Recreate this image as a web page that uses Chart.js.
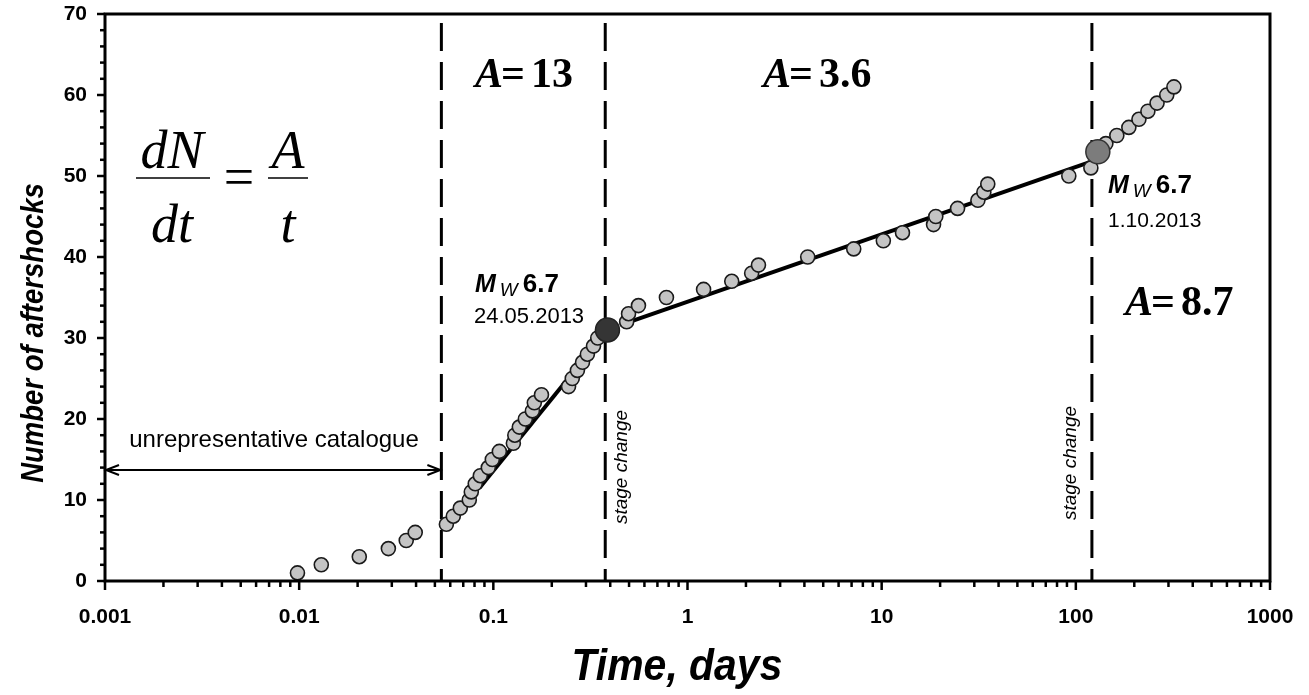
<!DOCTYPE html>
<html>
<head>
<meta charset="utf-8">
<script src="https://cdn.jsdelivr.net/npm/chart.js@4/dist/chart.umd.min.js"></script>
<style>
html,body{margin:0;padding:0;background:#fff;}
#wrap{width:1309px;height:695px;position:relative;}
</style>
</head>
<body>
<div id="wrap"><canvas id="c" width="1309" height="695"></canvas></div>
<script>
// ---- data ----
const timeDays = [0.0098,0.013,0.0204,0.0288,0.0356,0.0396,
  0.0573,0.0622,0.0676,0.0752,0.077,0.0807,0.0857,0.0942,0.0988,0.1074,0.1268,0.129,0.1361,0.1462,0.1589,0.1626,0.177,
  0.244,0.255,0.271,0.288,0.305,0.328,0.345,
  0.486,0.497,0.559,0.779,1.21,1.69,2.14,2.32,4.16,7.18,10.2,12.8,18.5,19.0,24.6,31.3,33.6,35.2,92.0,119.5,
  142.8,162.6,187.5,211.3,235,262,294,320];
const aftershocks = [1,2,3,4,5,6,
  7,8,9,10,11,12,13,14,15,16,17,18,19,20,21,22,23,
  24,25,26,27,28,29,30,
  32,33,34,35,36,37,38,39,40,41,42,43,44,45,46,47,48,49,50,51,
  54,55,56,57,58,59,60,61];
const mainshockT = [0.387, 129.8];
const mainshockN = [31, 53];
const fit1T = [0.085, 0.387];
const fit1N = [11.5, 31];
const fit2T = [0.45, 121];
const fit2N = [31.6, 51.8];
const boundaryT = [0.054, 0.377, 121];
const arrowT = [0.001, 0.054];
const arrowN = 13.7;
const xTickValues = [0.001,0.01,0.1,1,10,100,1000];
const xTickLabels = ['0.001','0.01','0.1','1','10','100','1000'];
const yTickValues = [0,10,20,30,40,50,60,70];

const pts = (xs, ys) => xs.map((x,i)=>({x:x, y:ys[i]}));

const datasets = [];
boundaryT.forEach(t => datasets.push({
  type:'line', data:[{x:t,y:68.9},{x:t,y:0}], borderColor:'#000', borderWidth:3,
  borderDash:[28,11], pointRadius:0, order:4, clip:false
}));
datasets.push({type:'line', data:[{x:arrowT[0],y:arrowN},{x:arrowT[1],y:arrowN}], borderColor:'#000',
  borderWidth:2, pointRadius:0, order:4});
datasets.push({type:'line', data:pts(fit1T,fit1N), borderColor:'#000', borderWidth:4, pointRadius:0, order:2});
datasets.push({type:'line', data:pts(fit2T,fit2N), borderColor:'#000', borderWidth:4, pointRadius:0, order:2});
datasets.push({type:'scatter', data:pts(timeDays,aftershocks), backgroundColor:'#c4c4c4', borderColor:'#1a1a1a',
  borderWidth:1.6, pointRadius:7, order:1});
datasets.push({type:'scatter', data:[{x:mainshockT[0],y:mainshockN[0]}], backgroundColor:'#353535', borderColor:'#222',
  borderWidth:1.5, pointRadius:12, order:0});
datasets.push({type:'scatter', data:[{x:mainshockT[1],y:mainshockN[1]}], backgroundColor:'#7c7c7c', borderColor:'#333',
  borderWidth:1.5, pointRadius:12, order:0});

function condensed(ctx, text, x, y, font, sx, rot, align){
  ctx.save();
  ctx.translate(x,y);
  if(rot) ctx.rotate(rot);
  ctx.scale(sx,1);
  ctx.font = font;
  ctx.textAlign = align||'center';
  ctx.textBaseline = 'middle';
  ctx.fillText(text,0,0);
  ctx.restore();
}
function rich(ctx, parts, x, y){
  let cx = x;
  parts.forEach(p=>{
    ctx.font = p.f;
    ctx.fillText(p.t, cx, y + (p.dy||0));
    cx += ctx.measureText(p.t).width + (p.gap||0);
  });
}

const deco = {
  id:'deco',
  afterDatasetsDraw(chart){
    const ctx = chart.ctx, xs = chart.scales.x, ys = chart.scales.y, a = chart.chartArea;
    ctx.save();
    ctx.fillStyle = '#000'; ctx.strokeStyle = '#000';
    // frame
    ctx.lineWidth = 3;
    ctx.strokeRect(a.left, a.top, a.right-a.left, a.bottom-a.top);
    // y ticks
    ctx.lineWidth = 2.5;
    for(let v=0; v<=70; v+=2){
      const py = ys.getPixelForValue(v);
      const len = (v%10===0)?8:5;
      ctx.beginPath(); ctx.moveTo(a.left-len, py); ctx.lineTo(a.left, py); ctx.stroke();
    }
    // x ticks
    for(let d=-3; d<=3; d++){
      for(let m=1; m<=9; m++){
        if(d===3 && m>1) break;
        const v = m*Math.pow(10,d);
        const px = xs.getPixelForValue(v);
        const len = (m===1)?9:6;
        ctx.beginPath(); ctx.moveTo(px, a.bottom); ctx.lineTo(px, a.bottom+len); ctx.stroke();
      }
    }
    // arrow heads
    const ay = ys.getPixelForValue(arrowN);
    const ax0 = xs.getPixelForValue(arrowT[0]), ax1 = xs.getPixelForValue(arrowT[1]);
    ctx.lineWidth = 2;
    ctx.beginPath(); ctx.moveTo(ax0+14, ay-5); ctx.lineTo(ax0+1, ay); ctx.lineTo(ax0+14, ay+5); ctx.stroke();
    ctx.beginPath(); ctx.moveTo(ax1-14, ay-5); ctx.lineTo(ax1-1, ay); ctx.lineTo(ax1-14, ay+5); ctx.stroke();

    ctx.textBaseline = 'alphabetic';
    ctx.textAlign = 'left';
    // A = labels
    const serifB = '"Liberation Serif", "Times New Roman", serif';
    const A = (x,y,num)=>rich(ctx,[{t:'A',f:'italic bold 42px '+serifB,gap:-2},{t:'=',f:'bold 42px '+serifB,gap:6},{t:num,f:'bold 42px '+serifB}],x,y);
    A(475,87,'13');
    A(763,87,'3.6');
    A(1125,315,'8.7');
    // formula
    ctx.font = 'italic 54px '+serifB;
    ctx.textAlign='center';
    ctx.fillText('dN',172,168);
    ctx.fillText('dt',172,242);
    ctx.fillText('A',288,168);
    ctx.fillText('t',288,242);
    ctx.font = '54px '+serifB;
    ctx.fillText('=',239,195);
    ctx.lineWidth = 1.5;
    ctx.beginPath(); ctx.moveTo(136,178); ctx.lineTo(210,178); ctx.stroke();
    ctx.beginPath(); ctx.moveTo(268,178); ctx.lineTo(308,178); ctx.stroke();
    // Mw annotations
    ctx.textAlign='left';
    const sans = '"Liberation Sans", Arial, sans-serif';
    const Mw = (x,y)=>rich(ctx,[{t:'M',f:'italic bold 25px '+sans,gap:4},{t:'W',f:'italic 19px '+sans,dy:4,gap:5},{t:'6.7',f:'bold 26px '+sans}],x,y);
    Mw(475,292);
    ctx.font = '22px '+sans; ctx.fillText('24.05.2013',474,323);
    Mw(1108,193);
    ctx.font = '21px '+sans; ctx.fillText('1.10.2013',1108,227);
    // stage change
    condensed(ctx,'stage change',622,467,'italic 19px '+sans,1,-Math.PI/2);
    condensed(ctx,'stage change',1071,463,'italic 19px '+sans,1,-Math.PI/2);
    // catalogue
    condensed(ctx,'unrepresentative catalogue',274,440,'24px '+sans,1,0);
    // axis titles
    condensed(ctx,'Number of aftershocks',34,333,'italic bold 32px '+sans,0.86,-Math.PI/2);
    condensed(ctx,'Time, days',677,668,'italic bold 44px '+sans,0.93,0);
    ctx.restore();
  }
};

function noPad(s){ s.paddingTop = 0; s.paddingBottom = 0; s.paddingLeft = 0; s.paddingRight = 0; }

new Chart(document.getElementById('c'), {
  type:'scatter',
  data:{datasets:datasets},
  options:{
    responsive:false, animation:false,
    layout:{autoPadding:false, padding:{top:14,right:39,left:0,bottom:0}},
    plugins:{legend:{display:false}, tooltip:{enabled:false}},
    scales:{
      x:{type:'logarithmic', min:0.001, max:1000, position:'bottom',
        grid:{display:false, drawTicks:false}, border:{display:false},
        afterBuildTicks:(s)=>{ s.ticks = xTickValues.map(v=>({value:v})); },
        afterFit:(s)=>{ s.height = 114; noPad(s); },
        ticks:{autoSkip:false, maxRotation:0, padding:24, color:'#000',
          font:{family:'"Liberation Sans", Arial, sans-serif', size:21, weight:'bold'},
          callback:(v)=>{ const i = xTickValues.findIndex(t=>Math.abs(Math.log10(t)-Math.log10(v))<1e-6); return i>=0?xTickLabels[i]:''; }}
      },
      y:{min:0, max:70,
        grid:{display:false, drawTicks:false}, border:{display:false},
        afterBuildTicks:(s)=>{ s.ticks = yTickValues.map(v=>({value:v})); },
        afterFit:(s)=>{ s.width = 105; noPad(s); },
        ticks:{padding:18, color:'#000',
          font:{family:'"Liberation Sans", Arial, sans-serif', size:21, weight:'bold'}}
      }
    }
  },
  plugins:[deco]
});
</script>
</body>
</html>
